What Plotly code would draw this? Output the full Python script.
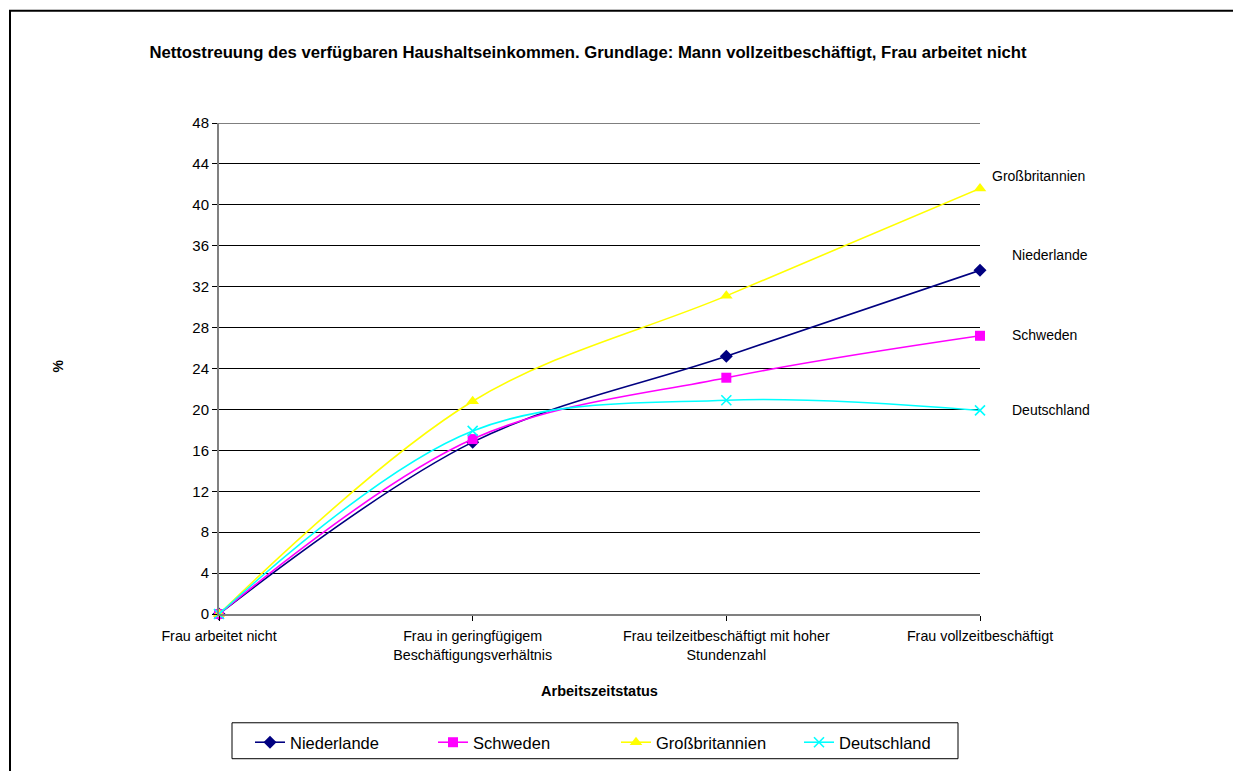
import plotly.graph_objects as go

categories = [
    "Frau arbeitet nicht",
    "Frau in geringfügigem<br>Beschäftigungsverhältnis",
    "Frau teilzeitbeschäftigt mit hoher<br>Stundenzahl",
    "Frau vollzeitbeschäftigt",
]
niederlande = [0, 16.8, 25.2, 33.6]
schweden = [0, 17.1, 23.1, 27.2]
grossbritannien = [0, 20.8, 31.1, 41.6]
deutschland = [0, 17.9, 20.9, 19.9]
y_ticks = list(range(0, 49, 4))

# page body has an 8px margin; the figure starts at (8, 8) in the window
OFF = 8
WIN_W, WIN_H = 1241, 771
W, H = WIN_W - OFF, WIN_H - OFF
L, R, T, B = 219, 980, 123, 615  # plot area in window px


def px_x(p):
    return (p - L) / (R - L)


def px_y(p):
    return (B - p) / (B - T)


FONT = "Liberation Sans, Arial, sans-serif"
xs = list(range(len(categories)))

series = [
    ("Niederlande", niederlande, "#000080", "diamond", 10, 30, 15),
    ("Schweden", schweden, "#FF00FF", "square", 10, 30, 1),
    ("Großbritannien", grossbritannien, "#FFFF00", "triangle-up", 11, 10, 12),
    ("Deutschland", deutschland, "#00FFFF", "x-thin", 10, 30, 0),
]

fig = go.Figure()

# top gridline (at the range edge, which plotly does not draw itself)
fig.add_shape(type="line", xref="paper", yref="y",
              x0=0, x1=1, y0=y_ticks[-1], y1=y_ticks[-1],
              line=dict(color="black", width=1), layer="below")

for name, vals, col, sym, size, xsh, ysh in series:
    marker = dict(symbol=sym, size=size, color=col)
    if sym == "x-thin":
        marker["line"] = dict(color=col, width=1.6)
    fig.add_trace(go.Scatter(
        x=xs, y=vals, name=name, mode="lines+markers",
        line=dict(color=col, width=1.6, shape="spline", smoothing=1.0),
        marker=marker, cliponaxis=False,
    ))
    fig.add_annotation(
        x=xs[-1], y=vals[-1], xref="x", yref="y", text=name, showarrow=False,
        xanchor="left", yanchor="middle", xshift=xsh, yshift=ysh,
        font=dict(family=FONT, size=14, color="black"),
    )

fig.add_annotation(
    x=px_x(58), y=px_y(367), xref="paper", yref="paper", text="<b>%</b>",
    xanchor="center", yanchor="middle",
    showarrow=False, textangle=-90, font=dict(family=FONT, size=14, color="black"),
)

# chart-area frame (left and top edges visible)
fig.add_shape(type="line", xref="paper", yref="paper",
              x0=px_x(10), x1=px_x(10), y0=px_y(10), y1=px_y(800),
              line=dict(color="black", width=2))
fig.add_shape(type="line", xref="paper", yref="paper",
              x0=px_x(9), x1=px_x(1270), y0=px_y(10.5), y1=px_y(10.5),
              line=dict(color="black", width=2))
# legend box
fig.add_shape(type="rect", xref="paper", yref="paper",
              x0=px_x(232), x1=px_x(958), y0=px_y(724), y1=px_y(760),
              line=dict(color="black", width=1), fillcolor="rgba(0,0,0,0)")

fig.update_layout(
    width=W, height=H,
    margin=dict(l=L - OFF, r=WIN_W - R, t=T - OFF, b=WIN_H - B, pad=0),
    paper_bgcolor="white", plot_bgcolor="white",
    font=dict(family=FONT, color="black"),
    title=dict(
        text="<b>Nettostreuung des verfügbaren Haushaltseinkommen. Grundlage: Mann vollzeitbeschäftigt, Frau arbeitet nicht</b>",
        x=(588 - OFF) / W, xanchor="center", y=1 - (52 - OFF) / H, yanchor="middle",
        font=dict(family=FONT, size=16.7, color="black"),
    ),
    xaxis=dict(
        range=[0, 3], tickmode="array", tickvals=xs, ticktext=categories,
        showgrid=False, zeroline=False, showline=True, linecolor="#808080", linewidth=2,
        ticks="outside", ticklen=5, tickcolor="black", ticklabelstandoff=3,
        tickfont=dict(family=FONT, size=14.3, color="black"),
        title=dict(text="<b>Arbeitszeitstatus</b>", font=dict(family=FONT, size=14.5, color="black"), standoff=24),
    ),
    yaxis=dict(
        range=[0, 48], tickmode="array", tickvals=y_ticks,
        showgrid=True, gridcolor="black", gridwidth=1, zeroline=False,
        showline=True, linecolor="#808080", linewidth=2,
        ticks="outside", ticklen=5, tickcolor="black",
        tickfont=dict(family=FONT, size=15, color="black"),
    ),
    legend=dict(
        orientation="h", x=px_x(250), y=px_y(725), xanchor="left", yanchor="top",
        borderwidth=0, bgcolor="rgba(0,0,0,0)",
        font=dict(family=FONT, size=16.5, color="black"),
        entrywidth=138, entrywidthmode="pixels",
    ),
    showlegend=True,
)

fig.write_html("out.html")
